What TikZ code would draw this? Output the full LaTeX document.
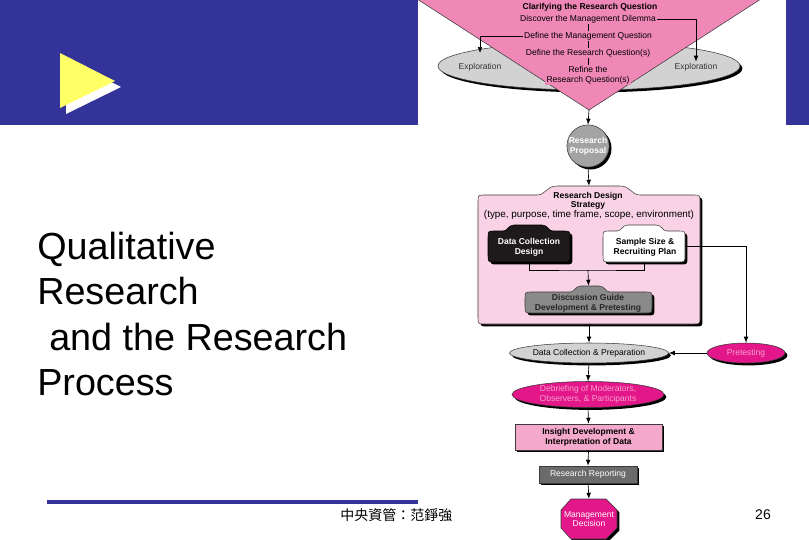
\documentclass[tikz,border=0pt]{standalone}
\usepackage{fontspec}
\setmainfont{Liberation Sans}
\newfontfamily\cjk{Noto Sans CJK TC}
\usetikzlibrary{arrows.meta,shadows,fit,shapes.geometric}
\definecolor{bandblue}{HTML}{333399}
\definecolor{tripink}{HTML}{EF88B6}
\definecolor{lightpink}{HTML}{F9D3E5}
\definecolor{magentab}{HTML}{E3168A}
\definecolor{insightpink}{HTML}{F3A8CC}
\definecolor{ellgray}{HTML}{D2D2D2}
\definecolor{circgray}{HTML}{A3A3A3}
\definecolor{guidegray}{HTML}{8A8A8A}
\definecolor{repgray}{HTML}{6B6B6B}
\definecolor{softpink}{HTML}{F7A3CF}
\definecolor{edgec}{HTML}{3A3A3A}
\definecolor{darkbox}{HTML}{1E1A1C}
\definecolor{yellowtri}{HTML}{FFFF66}
% #1 style, #2 x1, #3 y1, #4 x2, #5 y2, #6 bx1, #7 bx2, #8 btop, #9 curve width
\newcommand\drawbump[9]{%
  \path[#1] (#6,#3) -- (#2+7,#3) .. controls (#2,#3) .. (#2,#3+7)
    -- (#2,#5-7) .. controls (#2,#5) .. (#2+7,#5)
    -- (#4-7,#5) .. controls (#4,#5) .. (#4,#5-7)
    -- (#4,#3+7) .. controls (#4,#3) .. (#4-7,#3)
    -- (#7,#3) .. controls (#7-#9*0.45,#3) and (#7-#9*0.45,#8) .. (#7-#9,#8)
    -- (#6+#9,#8) .. controls (#6+#9*0.45,#8) and (#6+#9*0.45,#3) .. (#6,#3) -- cycle;}
\tikzset{
  shd/.style={drop shadow={shadow xshift=1.8pt, shadow yshift=-1.8pt, fill=black, opacity=1}},
  lbl/.style={font=\fontsize{6.4}{7.3}\selectfont, inner sep=0.8pt, align=center},
  blbl/.style={lbl, font=\fontsize{6.4}{7.3}\selectfont\bfseries},
  arr/.style={-{Latex[length=4.5pt,width=3.5pt]}, line width=0.5pt},
  con/.style={line width=0.5pt},
  titletext/.style={font=\fontsize{28.3}{34}\selectfont, inner sep=0, anchor=base west},
  outl/.style={draw=edgec, line width=0.4pt}
}
\begin{document}
\begin{tikzpicture}[x=0.75pt,y=-0.75pt]
\useasboundingbox (0,0) rectangle (809,539);
\fill[white] (0,0) rectangle (809,539);
% top band
\fill[bandblue] (0,0) rectangle (809,125);
\fill[white] (418,0) rectangle (786,125);
% yellow play triangle
\fill[white] (66,59) -- (66,114) -- (121,87) -- cycle;
\fill[yellowtri] (60,53) -- (60,108) -- (115,81) -- cycle;
% title
\node[titletext] (t1) at (37,259) {Qualitative};
\node[titletext] (t2) at (37,304) {Research};
\node[titletext] (t3) at (37,350) {\hspace*{9pt}and the Research};
\node[titletext] (t4) at (37,395) {Process};
% footer
\draw[bandblue, line width=3pt] (47,502) -- (418,502);
\node[anchor=west, inner sep=0, font=\cjk\fontsize{10.5}{12}\selectfont] (cn) at (340,515) {中央資管：范錚強};
\node[inner sep=0, font=\fontsize{10.5}{12}\selectfont] (pn) at (763,515) {26};

% ===== flowchart =====
\node[ellipse, outl, fill=ellgray, minimum width=226.5pt, minimum height=36pt, shd] (expl) at (589,66) {};
\node[lbl, text=black!80] (exL) at (480,67) {Exploration};
\node[lbl, text=black!80] (exR) at (696,67) {Exploration};
\filldraw[fill=tripink, draw=edgec, line width=0.4pt] (414,-3) -- (764,-3) -- (589,110) -- cycle;
\coordinate (tip) at (589,110);
\coordinate (exLin) at (480,53);
\node[blbl, fill=tripink] (c1) at (590,7) {Clarifying the Research Question};
\node[lbl, fill=tripink] (c2) at (588,19) {Discover the Management Dilemma};
\node[lbl, fill=tripink] (c3) at (588,36) {Define the Management Question};
\node[lbl, fill=tripink] (c4) at (588,53) {Define the Research Question(s)};
\node[lbl, fill=tripink] (c5) at (588,75.5) {Refine the\\Research Question(s)};
\draw[con] (c2.south) -- (c3.north);
\draw[con] (c3.south) -- (c4.north);
\draw[con] (c4.south) -- (c5.north);
\draw[arr] (c2.east) -| (exR.north);
\draw[arr] (c3.west) -| (exLin);

% research proposal
\node[circle, outl, fill=circgray, minimum size=31.5pt, inner sep=0, shd, text=white, font=\fontsize{6.4}{7.3}\selectfont\bfseries, align=center] (rp) at (588,146) {Research\\Proposal};
\draw[arr] (tip) -- (rp.north);

% research design box
\drawbump{fill=lightpink, outl, shd}{478}{195}{700}{324}{537}{640}{186}{20}
\node[fit={(478,186) (700,324)}, inner sep=0] (rd) {};
\node[blbl] (rd1) at (588,196.5) {Research Design};
\node[blbl] (rd2) at (588,205.5) {Strategy};
\node[lbl, font=\fontsize{7.4}{8.4}\selectfont] (rd3) at (589,214.5) {(type, purpose, time frame, scope, environment)};
\draw[arr] (rp.south) -- (rd.north);

% data collection design
\drawbump{fill=darkbox, draw=black, line width=0.4pt, shd}{488}{231}{570}{262}{503}{553}{225}{11}
\node[fit={(488,231) (570,262)}, inner sep=0] (dcd) {};
\node[blbl, text=white] (dcdt) at (529,247) {Data Collection\\Design};
% sample size
\drawbump{fill=white, outl, shd}{603}{231}{685}{262}{617}{667}{225}{11}
\node[fit={(603,231) (685,262)}, inner sep=0] (ss) {};
\node[blbl] (sst) at (645,247) {Sample Size \&\\Recruiting Plan};
% discussion guide
\drawbump{fill=guidegray, outl, shd}{525}{292}{652}{313}{570}{610}{286}{11}
\node[fit={(525,286) (652,313)}, inner sep=0] (dg) {};
\node[blbl, text=black!85] (dgt) at (588,303) {Discussion Guide\\Development \& Pretesting};
\coordinate (join) at (588,270);
\draw[con] (dcd.south) |- (join) -| (ss.south);
\draw[arr] (join) -- (dg.north);

% lower chain
\node[ellipse, outl, fill=ellgray, minimum width=115.5pt, minimum height=15pt, inner sep=0, shd, font=\fontsize{6.4}{7.3}\selectfont] (dc) at (589,353) {Data Collection \& Preparation};
\node[ellipse, outl, fill=magentab, minimum width=58.5pt, minimum height=15pt, inner sep=0, shd, text=softpink, font=\fontsize{6.4}{7.3}\selectfont] (pt) at (746,353) {Pretesting};
\draw[arr] (ss.east) -| (pt.north);
\draw[arr] (pt.west) -- (dc.east);
\draw[arr] (rd.south) -- (dc.north);
\node[ellipse, outl, fill=magentab, minimum width=114pt, minimum height=19.5pt, inner sep=0, shd, text=softpink, font=\fontsize{6.4}{7.3}\selectfont, align=center] (db) at (588,394.5) {Debriefing of Moderators,\\Observers, \& Participants};
\draw[arr] (dc.south) -- (db.north);
\node[rectangle, outl, fill=insightpink, minimum width=110.25pt, minimum height=19.5pt, inner sep=0, shd, font=\fontsize{6.4}{7.3}\selectfont\bfseries, align=center] (ins) at (588.5,437) {Insight Development \&\\Interpretation of Data};
\draw[arr] (db.south) -- (ins.north);
\node[rectangle, outl, fill=repgray, minimum width=73.5pt, minimum height=12.75pt, inner sep=0, shd, text=white, font=\fontsize{6.4}{7.3}\selectfont] (rr) at (588,474.5) {Research Reporting};
\draw[arr] (ins.south) -- (rr.north);
\filldraw[fill=magentab, outl, shd] (571,499) -- (606,499) -- (617,510) -- (617,528) -- (606,539) -- (571,539) -- (561,528) -- (561,510) -- cycle;
\node[fit={(561,499) (617,539)}, inner sep=0] (md) {};
\node[lbl, text=white] (mdt) at (589,519) {Management\\Decision};
\draw[arr] (rr.south) -- (md.north);
\end{tikzpicture}
\end{document}
